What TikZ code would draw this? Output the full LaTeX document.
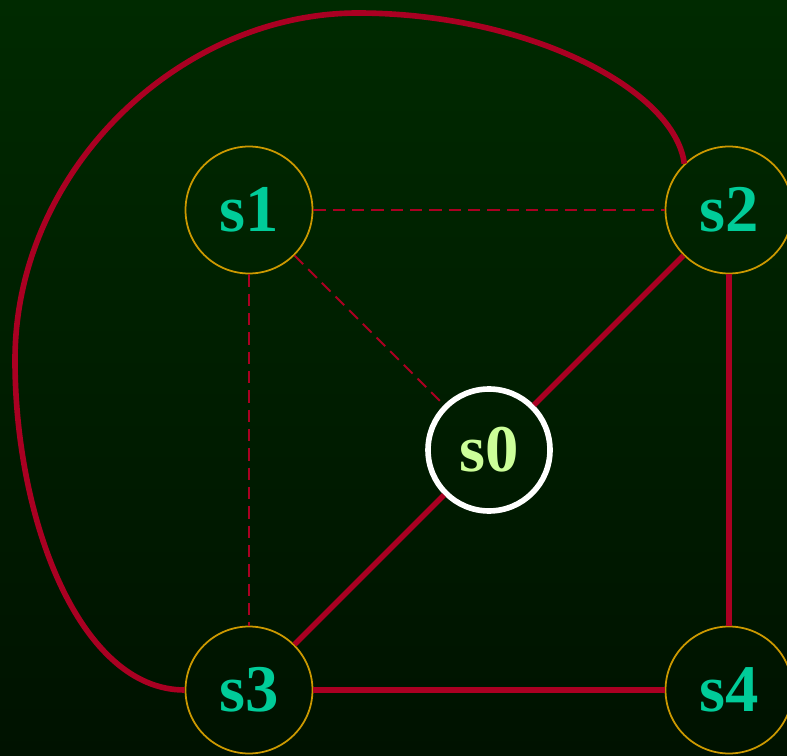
\documentclass[tikz,border=0pt]{standalone}
\usepackage{fontspec}
\setmainfont{Liberation Serif}
\usepackage{tikz}
\usetikzlibrary{arrows.meta,positioning,calc}
\definecolor{bgTop}{RGB}{0,42,0}
\definecolor{bgBottom}{RGB}{0,18,0}
\definecolor{edgeRed}{RGB}{170,0,34}
\definecolor{ringGold}{RGB}{204,153,0}
\definecolor{stateTeal}{RGB}{0,204,153}
\definecolor{rootLime}{RGB}{204,255,153}

\begin{document}
\begin{tikzpicture}[x=0.02cm, y=-0.02cm,
    state/.style={circle, draw=ringGold, line width=1pt, minimum size=2.54cm, inner sep=0pt,
      text=stateTeal, font=\fontsize{38}{42}\selectfont\bfseries},
    root/.style={state, draw=white, line width=3.2pt, minimum size=2.44cm, text=rootLime},
    link/.style={edgeRed, line width=3.2pt},
    hint/.style={edgeRed, line width=1.1pt, dash pattern=on 7pt off 4pt}]
    % background
    \useasboundingbox (0,0) rectangle (787,756);
    \shade[top color=bgTop, bottom color=bgBottom] (0,0) rectangle (787,756);
    % states
    \node[root] (s0) at (489, 450) {s0};
    \foreach \name/\x/\y in {s1/249/210, s2/729/210, s3/249/690, s4/729/690} {
      \node[state] (\name) at (\x, \y) {\name};
    }
    % dashed hints from s1
    \draw[hint] (s1) -- (s2);
    \draw[hint] (s1) -- (s0);
    \draw[hint] (s1) -- (s3);
    % solid links
    \draw[link] (s2) -- (s0);
    \draw[link] (s0) -- (s3);
    \draw[link] (s2) -- (s4);
    \draw[link] (s3) -- (s4);
    % the long way round from s2 to s3
    \draw[link] (s2.134) .. controls (675, 90) and (530, 14) .. (360, 13)
      .. controls (180, 12) and (15, 170) .. (15, 360)
      .. controls (15, 520) and (80, 690) .. (s3.west);
  \end{tikzpicture}
\end{document}
